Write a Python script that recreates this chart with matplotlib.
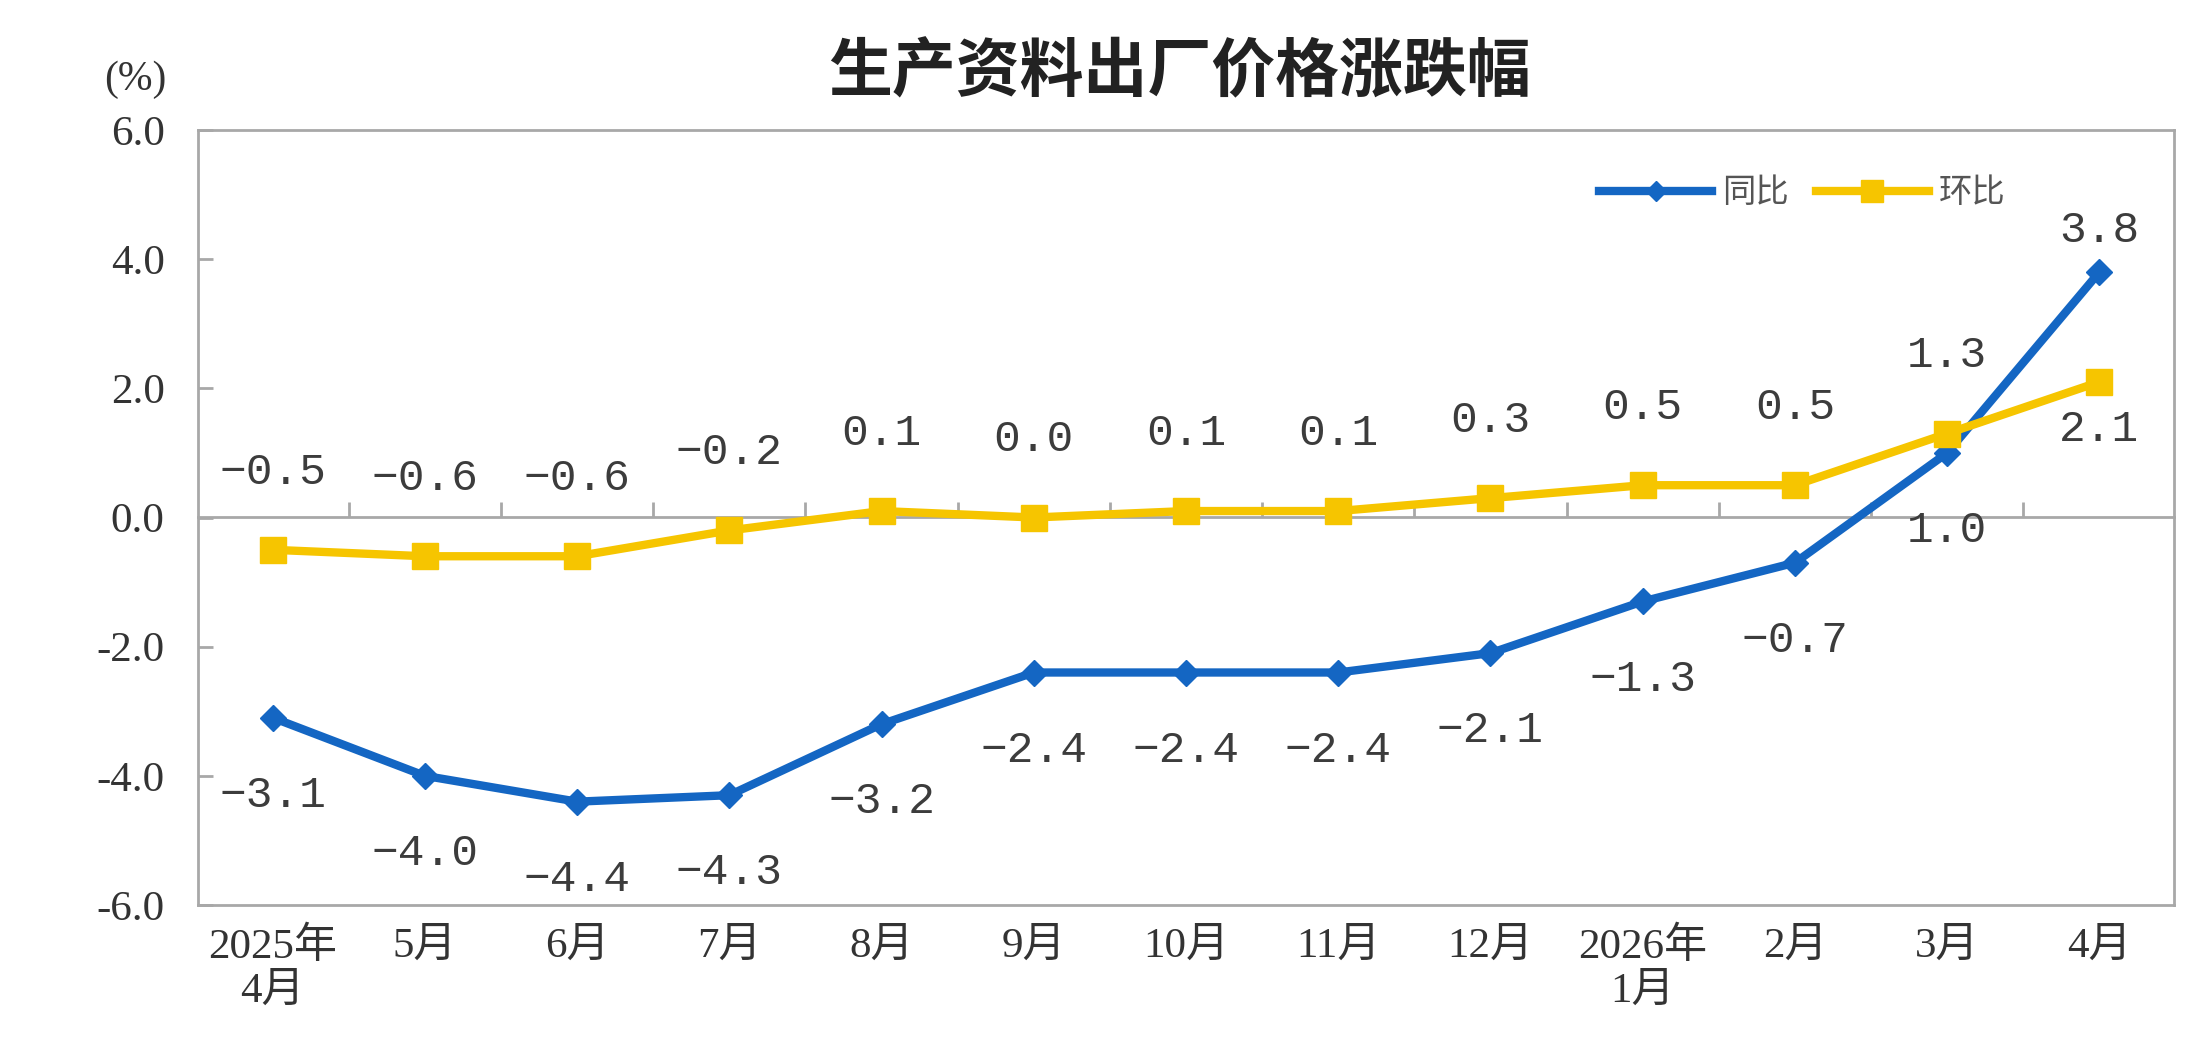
import numpy as np
import matplotlib
matplotlib.use("Agg")
import matplotlib.pyplot as plt

# ---- data ----
categories = ["2025年\n4月", "5月", "6月", "7月", "8月", "9月", "10月", "11月",
              "12月", "2026年\n1月", "2月", "3月", "4月"]
yoy = [-3.1, -4.0, -4.4, -4.3, -3.2, -2.4, -2.4, -2.4, -2.1, -1.3, -0.7, 1.0, 3.8]
mom = [-0.5, -0.6, -0.6, -0.2, 0.1, 0.0, 0.1, 0.1, 0.3, 0.5, 0.5, 1.3, 2.1]
yticks = [-6, -4, -2, 0, 2, 4, 6]
ytick_labels = ["-6.0", "-4.0", "-2.0", "0.0", "2.0", "4.0", "6.0"]
series_names = ["同比", "环比"]
title = "生产资料出厂价格涨跌幅"
unit_label = "(%)"

# ---- style ----
W, H = 2208, 1060
BLUE = "#1466C3"
YELLOW = "#F6C500"
GRAY = "#A8A8A8"
TEXT = "#333333"
LABEL = "#3C3C3C"
SERIF = ["Liberation Serif", "Noto Sans CJK SC", "DejaVu Sans"]
CJK = ["Noto Sans CJK SC", "DejaVu Sans"]
MONO = ["Liberation Mono", "DejaVu Sans Mono"]

fig = plt.figure(figsize=(W / 100, H / 100), dpi=100)
ax = fig.add_axes([198 / W, 1 - 905 / H, (2174 - 198) / W, (905 - 130) / H])

x = np.arange(len(categories))
l1, = ax.plot(x, yoy, color=BLUE, lw=6, marker="D", ms=13, zorder=3,
              label=series_names[0])
l2, = ax.plot(x, mom, color=YELLOW, lw=6, marker="s", ms=19, zorder=4,
              label=series_names[1])

ax.set_xlim(-0.49, 12.49)
ax.set_ylim(-6, 6)
ax.set_yticks(yticks)
ax.set_yticklabels(ytick_labels, family=SERIF, fontsize=31, color=TEXT)
ax.set_xticks(x)
ax.set_xticklabels(categories, family=SERIF, fontsize=31, color=TEXT,
                   linespacing=1.2, va="top")
ax.tick_params(axis="x", length=0, pad=16)
ax.tick_params(axis="y", direction="in", length=11, width=2, color=GRAY, pad=24)

for s in ax.spines.values():
    s.set_color(GRAY)
    s.set_linewidth(2)

# zero line with category separator ticks
sec = ax.secondary_xaxis(0.5)
sec.set_xticks(np.arange(0.5, len(categories) - 1, 1.0))
sec.tick_params(axis="x", direction="out", length=11, width=2, color=GRAY,
                labeltop=False, labelbottom=False)
for s in sec.spines.values():
    s.set_color(GRAY)
    s.set_linewidth(2)

# data labels
def fmt(v):
    s = f"{abs(v):.1f}"
    return ("\u2212" + s) if v < 0 else s

mom_off = [56] * 12 + [-34]
yoy_off = [-56] * 12 + [30]
for xi, v, o in zip(x, mom, mom_off):
    ax.annotate(fmt(v), (xi, v), xytext=(0, o), textcoords="offset points",
                ha="center", va="center", fontsize=32, family=MONO,
                color=LABEL, zorder=5)
for xi, v, o in zip(x, yoy, yoy_off):
    ax.annotate(fmt(v), (xi, v), xytext=(0, o), textcoords="offset points",
                ha="center", va="center", fontsize=32, family=MONO,
                color=LABEL, zorder=5)

leg = ax.legend(handles=[l1, l2], loc="center left", bbox_to_anchor=(0.709, 0.919),
                ncol=2, frameon=False, handlelength=3.4, handletextpad=0.3,
                columnspacing=0.8, borderpad=0, borderaxespad=0, markerscale=0.8,
                prop={"family": CJK, "size": 24})
for t in leg.get_texts():
    t.set_color("#555555")

fig.text(1179 / W, 1 - 73 / H, title, ha="center", va="center", fontsize=46,
         family=CJK, weight="bold", color="#222222")
fig.text(135 / W, 1 - 80 / H, unit_label, ha="center", va="center", fontsize=30,
         family=SERIF, color=TEXT)

fig.savefig("out.png", dpi=100, facecolor="white")
